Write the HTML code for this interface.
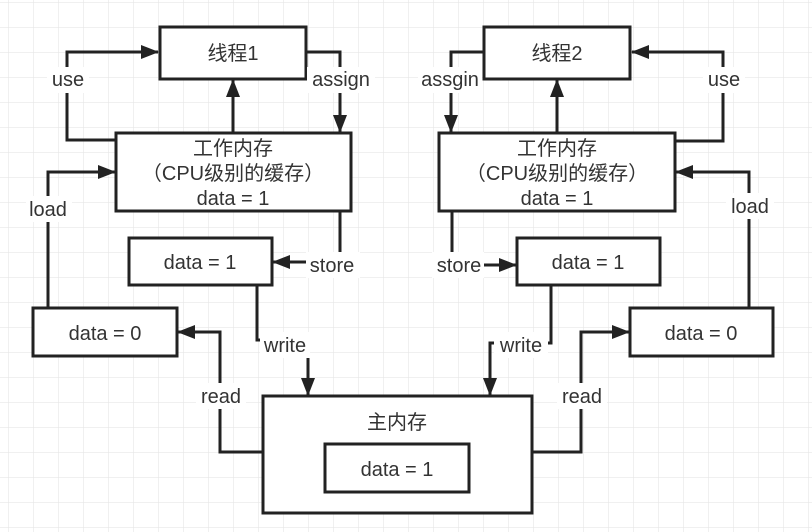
<!DOCTYPE html>
<html><head><meta charset="utf-8"><style>
html,body{margin:0;padding:0;background:#fff;}
svg{display:block;}
text{font-family:"Liberation Sans","Noto Sans CJK SC",sans-serif;font-size:20px;fill:#333;text-anchor:middle;}
</style></head><body>
<svg width="812" height="532" viewBox="0 0 812 532" xmlns="http://www.w3.org/2000/svg">
<defs>
<pattern id="g" x="8" y="2" width="25" height="25" patternUnits="userSpaceOnUse">
<path d="M0 0V25M0 0H25" stroke="#e6e6e6" stroke-width="1.2" fill="none"/>
</pattern>
<marker id="a" viewBox="0 0 18 14" refX="17" refY="7" markerWidth="18" markerHeight="14" markerUnits="userSpaceOnUse" orient="auto">
<path d="M0 0 L18 7 L0 14 Z" fill="#222"/>
</marker>
</defs>
<rect width="812" height="532" fill="url(#g)"/>
<g fill="#fff" stroke="#222" stroke-width="3">
<rect x="160" y="27" width="146" height="52"/>
<rect x="116" y="133" width="235" height="78"/>
<rect x="129" y="238" width="143" height="47"/>
<rect x="33" y="308" width="144" height="48"/>
<rect x="263" y="396" width="269" height="117"/>
<rect x="325" y="444" width="144" height="48"/>
<rect x="484" y="27" width="146" height="52"/>
<rect x="439" y="133" width="236" height="78"/>
<rect x="517" y="238" width="143" height="47"/>
<rect x="630" y="308" width="143" height="48"/>
</g>
<g fill="none" stroke="#222" stroke-width="3">
<path d="M116 140H67V52H158" marker-end="url(#a)"/>
<path d="M306 52H340V132" marker-end="url(#a)"/>
<path d="M233 133V80" marker-end="url(#a)"/>
<path d="M48 308V172H115" marker-end="url(#a)"/>
<path d="M340 211V262H273" marker-end="url(#a)"/>
<path d="M257 285V340H308V395" marker-end="url(#a)"/>
<path d="M263 452H220V332H178" marker-end="url(#a)"/>
<path d="M484 52H451V132" marker-end="url(#a)"/>
<path d="M675 141H723V52H632" marker-end="url(#a)"/>
<path d="M557 133V80" marker-end="url(#a)"/>
<path d="M749 308V172H676" marker-end="url(#a)"/>
<path d="M452 211V265H516" marker-end="url(#a)"/>
<path d="M551 285V343H490V395" marker-end="url(#a)"/>
<path d="M532 452H581V332H629" marker-end="url(#a)"/>
</g>
<g fill="#fff">
<rect x="47" y="67" width="42" height="26"/>
<rect x="307" y="67" width="68" height="26"/>
<rect x="26" y="196" width="46" height="26"/>
<rect x="306" y="252" width="54" height="26"/>
<rect x="260" y="332" width="50" height="26"/>
<rect x="196" y="383" width="50" height="26"/>
<rect x="418" y="67" width="64" height="26"/>
<rect x="703" y="67" width="42" height="26"/>
<rect x="726" y="193" width="48" height="26"/>
<rect x="432" y="252" width="52" height="26"/>
<rect x="494" y="332" width="54" height="26"/>
<rect x="557" y="383" width="50" height="26"/>
</g>
<text x="233" y="60">线程1</text>
<text x="557" y="60">线程2</text>
<text x="233" y="155">工作内存</text>
<text x="233" y="180">（CPU级别的缓存）</text>
<text x="233" y="205">data = 1</text>
<text x="557" y="155">工作内存</text>
<text x="557" y="180">（CPU级别的缓存）</text>
<text x="557" y="205">data = 1</text>
<text x="200" y="269">data = 1</text>
<text x="588" y="269">data = 1</text>
<text x="105" y="340">data = 0</text>
<text x="701" y="340">data = 0</text>
<text x="397" y="429">主内存</text>
<text x="397" y="476">data = 1</text>
<text x="68" y="86">use</text>
<text x="341" y="86">assign</text>
<text x="48" y="216">load</text>
<text x="332" y="272">store</text>
<text x="285" y="352">write</text>
<text x="221" y="403">read</text>
<text x="450" y="86">assgin</text>
<text x="724" y="86">use</text>
<text x="750" y="213">load</text>
<text x="459" y="272">store</text>
<text x="521" y="352">write</text>
<text x="582" y="403">read</text>
</svg>
</body></html>
